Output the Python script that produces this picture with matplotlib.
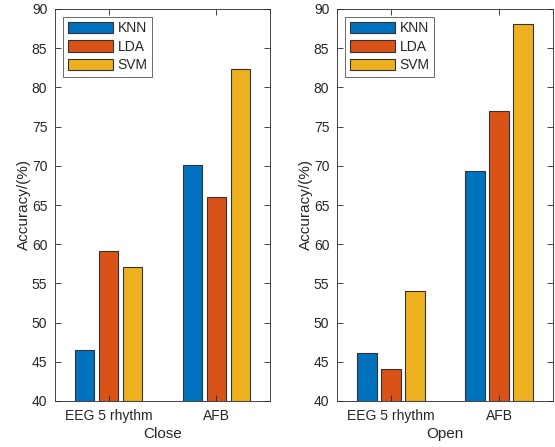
import numpy as np
import matplotlib
matplotlib.use('Agg')
import matplotlib.pyplot as plt

# データ
groups = ['EEG 5 rhythm', 'AFB']
methods = ['KNN', 'LDA', 'SVM']
close_knn = [46.5, 70.1]
close_lda = [59.1, 66.0]
close_svm = [57.1, 82.3]
open_knn = [46.1, 69.3]
open_lda = [44.1, 77.0]
open_svm = [54.0, 88.1]

colors = ['#0072BD', '#D95319', '#EDB120']
txt = '#262626'

plt.rcParams['font.family'] = ['Liberation Sans', 'DejaVu Sans']
plt.rcParams['font.size'] = 10

fig = plt.figure(figsize=(5.55, 4.47), dpi=100)
ax1 = fig.add_axes([55 / 555, 1 - 401 / 447, 215 / 555, 392 / 447])
ax2 = fig.add_axes([337 / 555, 1 - 401 / 447, 216 / 555, 392 / 447])

x = np.arange(1, len(groups) + 1)
offs = [-0.222, 0, 0.222]

for ax, data, xl in [(ax1, [close_knn, close_lda, close_svm], 'Close'),
                     (ax2, [open_knn, open_lda, open_svm], 'Open')]:
    for i, vals in enumerate(data):
        ax.bar(x + offs[i], np.array(vals) - 40, bottom=40, width=0.178,
               color=colors[i], edgecolor='#333333', linewidth=0.8, label=methods[i])
    ax.set_xlim(0.5, 2.5)
    ax.set_ylim(40, 90)
    ax.set_yticks(np.arange(40, 91, 5))
    ax.set_xticks(x)
    ax.set_xticklabels(groups)
    ax.set_xlabel(xl, color=txt, fontsize=11, labelpad=3)
    ax.set_ylabel('Accuracy/(%)', color=txt, fontsize=11, labelpad=0.5)
    ax.tick_params(direction='in', top=True, right=True, colors=txt, labelsize=10,
                   length=4, width=0.6, pad=5.5)
    for s in ax.spines.values():
        s.set_color(txt)
        s.set_linewidth(0.6)
    leg = ax.legend(loc='upper left', fancybox=False, handlelength=3.3, handleheight=0.9,
                    labelspacing=0.32, borderpad=0.35, handletextpad=0.3,
                    bbox_to_anchor=(0.0, 1.0), borderaxespad=0.55)
    leg.get_frame().set_edgecolor(txt)
    leg.get_frame().set_linewidth(0.6)
    for t in leg.get_texts():
        t.set_color(txt)

plt.savefig('out.png', dpi=100)
